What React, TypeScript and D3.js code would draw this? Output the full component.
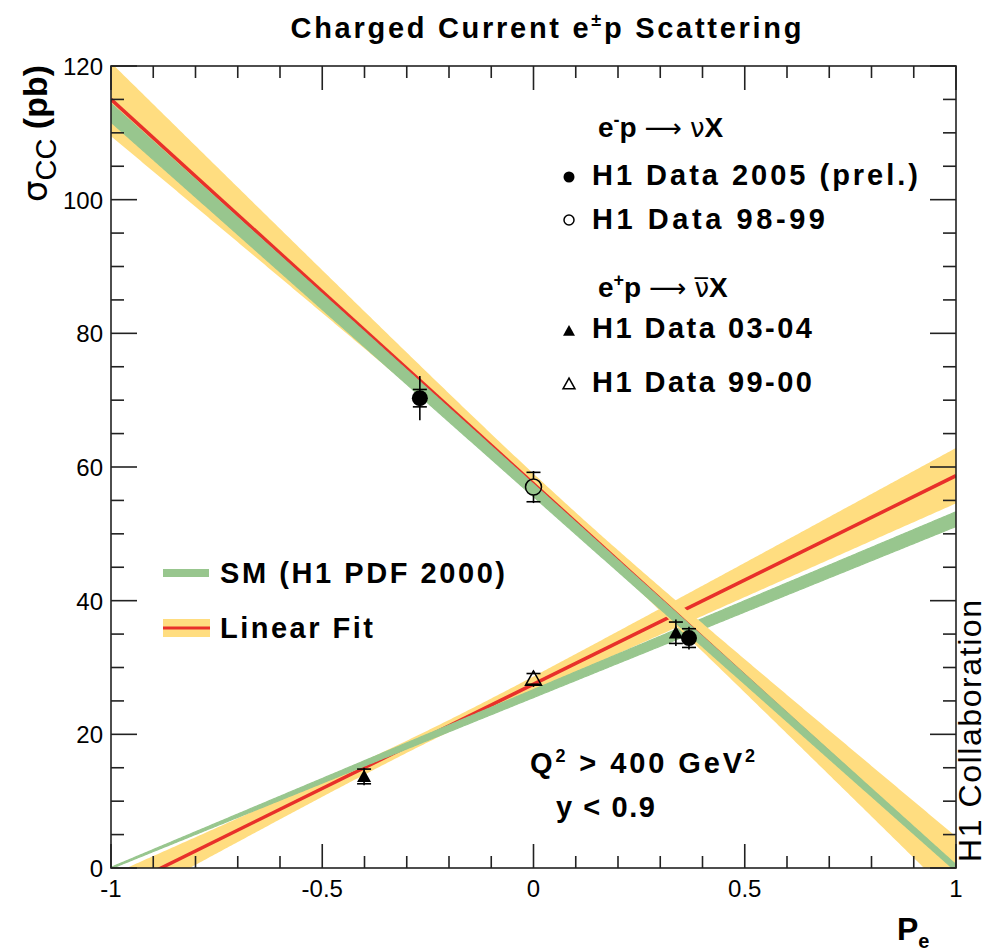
import React from 'react';
import * as d3 from 'd3';

const W = 989, H = 951;
const X_DOMAIN = [-1, 1];
const Y_DOMAIN = [0, 120];
const X_MAJOR = [-1, -0.5, 0, 0.5, 1];
const X_TICK_LABELS = ['-1', '-0.5', '0', '0.5', '1'];
const Y_MAJOR = [0, 20, 40, 60, 80, 100, 120];
const Y_TICK_LABELS = ['0', '20', '40', '60', '80', '100', '120'];

// Linear fits: [value at P=0, slope]; errors [sigma_a, sigma_b, correlation]
const FIT_EM = [57.5, -57.5];
const FIT_EM_ERR = [1.5, 4.89, -0.278];
const FIT_EP = [27.5, 31.2];
const FIT_EP_ERR = [1.17, 3.29, 0.653];
// SM (H1 PDF 2000): [value at P=0, slope]; band half-width [at P=0, slope]
const SM_EM = [56.5, -56.5];
const SM_EM_W = [0.95, -0.45];
const SM_EP = [26.1, 26.1];
const SM_EP_W = [0.6, 0.5];

// e-p data 2005 (prel.)
const EM05_P = [-0.269, 0.368];
const EM05_S = [70.3, 34.4];
const EM05_STAT = [1.3, 1.4];
const EM05_TOT = [3.3, 1.7];
// e-p data 98-99
const EM98_P = [0];
const EM98_S = [57.0];
const EM98_STAT = [2.2];
const EM98_TOT = [2.4];
// e+p data 03-04
const EP03_P = [-0.401, 0.337];
const EP03_S = [13.7, 35.2];
const EP03_STAT = [1.1, 1.6];
const EP03_TOT = [1.3, 2.0];
// e+p data 99-00
const EP99_P = [0];
const EP99_S = [28.3];
const EP99_STAT = [0.8];
const EP99_TOT = [1.0];

const YELLOW = '#ffdd80';
const GREEN = '#98c68e';
const RED = '#e8302a';
const FONT = '"Liberation Sans", Arial, Helvetica, sans-serif';

const x = d3.scaleLinear().domain(X_DOMAIN).range([111, 956]);
const y = d3.scaleLinear().domain(Y_DOMAIN).range([868, 66]);
const samples = d3.range(-1, 1.0001, 0.005);

function fitBand(fit: number[], err: number[]) {
  const [a, b] = fit;
  const [ea, eb, rho] = err;
  const hw = (p: number) => Math.sqrt(ea * ea + 2 * rho * ea * eb * p + eb * eb * p * p);
  const area = d3.area<number>()
    .x(p => x(p))
    .y0(p => y(a + b * p - hw(p)))
    .y1(p => y(a + b * p + hw(p)));
  return area(samples) || '';
}
function fitLine(fit: number[]) {
  const line = d3.line<number>().x(p => x(p)).y(p => y(fit[0] + fit[1] * p));
  return line([-1, 1]) || '';
}
function smBand(sm: number[], w: number[]) {
  const area = d3.area<number>()
    .x(p => x(p))
    .y0(p => y(sm[0] + sm[1] * p - (w[0] + w[1] * p)))
    .y1(p => y(sm[0] + sm[1] * p + (w[0] + w[1] * p)));
  return area(samples) || '';
}

type Kind = 'fc' | 'oc' | 'ft' | 'ot';
function Points({ P, S, stat, tot, kind, size }: { P: number[]; S: number[]; stat: number[]; tot: number[]; kind: Kind; size: number }) {
  return (
    <g>
      {P.map((p, i) => {
        const cx = x(p), cy = y(S[i]);
        const open = kind === 'oc' || kind === 'ot';
        const r = size;
        const yTop = y(S[i] + tot[i]);
        const yBot = y(S[i] - tot[i]);
        const ySt = y(S[i] + stat[i]);
        const ySb = y(S[i] - stat[i]);
        const gap = open ? r : 0;
        return (
          <g key={i}>
            <line x1={cx} x2={cx} y1={yTop} y2={cy - gap} stroke="#000" strokeWidth={1.6} />
            <line x1={cx} x2={cx} y1={cy + gap} y2={yBot} stroke="#000" strokeWidth={1.6} />
            <line x1={cx - 7} x2={cx + 7} y1={ySt} y2={ySt} stroke="#000" strokeWidth={1.6} />
            <line x1={cx - 7} x2={cx + 7} y1={ySb} y2={ySb} stroke="#000" strokeWidth={1.6} />
            <Marker kind={kind} cx={cx} cy={cy} r={r} />
          </g>
        );
      })}
    </g>
  );
}
function Marker({ kind, cx, cy, r }: { kind: Kind; cx: number; cy: number; r: number }) {
  if (kind === 'fc') return <circle cx={cx} cy={cy} r={r} fill="#000" />;
  if (kind === 'oc') return <circle cx={cx} cy={cy} r={r} fill="none" stroke="#000" strokeWidth={1.5} />;
  const h = r * 1.8;
  const pts = `${cx},${cy - h * 0.55} ${cx - r},${cy + h * 0.45} ${cx + r},${cy + h * 0.45}`;
  if (kind === 'ft') return <polygon points={pts} fill="#000" />;
  return <polygon points={pts} fill="none" stroke="#000" strokeWidth={1.5} />;
}

export default function App() {
  const xMinor = d3.range(-1, 1.0001, 0.1);
  const yMinor = d3.range(0, 120.001, 5);
  const L = 111, R = 956, T = 66, B = 868;
  return (
    <svg width={W} height={H} style={{ position: 'absolute', left: 0, top: 0, background: '#fff' }} fontFamily={FONT}>
      <defs>
        <clipPath id="plot"><rect x={L} y={T} width={R - L} height={B - T} /></clipPath>
      </defs>
      <rect x={0} y={0} width={W} height={H} fill="#fff" />
      <g clipPath="url(#plot)">
        <path d={fitBand(FIT_EP, FIT_EP_ERR)} fill={YELLOW} />
        <path d={fitLine(FIT_EP)} stroke={RED} strokeWidth={3.5} fill="none" />
        <path d={smBand(SM_EP, SM_EP_W)} fill={GREEN} stroke={GREEN} strokeWidth={1.2} />
        <path d={fitBand(FIT_EM, FIT_EM_ERR)} fill={YELLOW} />
        <path d={fitLine(FIT_EM)} stroke={RED} strokeWidth={3.5} fill="none" />
        <path d={smBand(SM_EM, SM_EM_W)} fill={GREEN} stroke={GREEN} strokeWidth={1.2} />
      </g>
      {/* data */}
      <Points P={EM05_P} S={EM05_S} stat={EM05_STAT} tot={EM05_TOT} kind="fc" size={8} />
      <Points P={EM98_P} S={EM98_S} stat={EM98_STAT} tot={EM98_TOT} kind="oc" size={8} />
      <Points P={EP03_P} S={EP03_S} stat={EP03_STAT} tot={EP03_TOT} kind="ft" size={7} />
      <Points P={EP99_P} S={EP99_S} stat={EP99_STAT} tot={EP99_TOT} kind="ot" size={8} />

      {/* frame and ticks */}
      <rect x={L} y={T} width={R - L} height={B - T} fill="none" stroke="#222" strokeWidth={1.6} />
      {xMinor.map((v, i) => {
        const major = X_MAJOR.some(m => Math.abs(m - v) < 1e-6);
        const len = major ? 24 : 12;
        return (
          <g key={'xt' + i}>
            <line x1={x(v)} x2={x(v)} y1={B} y2={B - len} stroke="#222" strokeWidth={1.6} />
            <line x1={x(v)} x2={x(v)} y1={T} y2={T + len} stroke="#222" strokeWidth={1.6} />
          </g>
        );
      })}
      {yMinor.map((v, i) => {
        const major = Y_MAJOR.some(m => Math.abs(m - v) < 1e-6);
        const len = major ? 26 : 13;
        return (
          <g key={'yt' + i}>
            <line x1={L} x2={L + len} y1={y(v)} y2={y(v)} stroke="#222" strokeWidth={1.6} />
            <line x1={R} x2={R - len} y1={y(v)} y2={y(v)} stroke="#222" strokeWidth={1.6} />
          </g>
        );
      })}
      {X_MAJOR.map((v, i) => (
        <text key={'xl' + i} x={x(v)} y={897} fontSize={24} textAnchor="middle" fill="#000">{X_TICK_LABELS[i]}</text>
      ))}
      {Y_MAJOR.map((v, i) => (
        <text key={'yl' + i} x={103} y={y(v) + 9} fontSize={24} textAnchor="end" fill="#000">{Y_TICK_LABELS[i]}</text>
      ))}

      {/* title */}
      <text x={546} y={38} fontSize={29} fontWeight="bold" textAnchor="middle" textLength={511}>
        Charged Current e<tspan dy={-12} fontSize={18}>±</tspan><tspan dy={12}>p Scattering</tspan>
      </text>

      {/* y axis label */}
      <text transform="translate(47,65) rotate(-90)" textAnchor="end" fontSize={34}>
        <tspan fontFamily="DejaVu Sans">σ</tspan>
        <tspan dy={9} fontSize={29}>CC</tspan>
        <tspan dy={-9} fontWeight="bold"> (pb)</tspan>
      </text>
      {/* x axis label */}
      <text x={897} y={940} fontSize={32} fontWeight="bold">
        P<tspan dy={8} fontSize={20}>e</tspan>
      </text>

      {/* legend top right */}
      <text x={598} y={137} fontSize={28} fontWeight="bold">
        e<tspan dy={-11} fontSize={18}>-</tspan><tspan dy={11}>p </tspan><tspan fontWeight="normal" fontFamily="DejaVu Sans" fontSize={26}>⟶ </tspan><tspan fontWeight="normal" fontFamily="DejaVu Sans" fontSize={26}>ν</tspan>X
      </text>
      <Marker kind="fc" cx={569} cy={177} r={5.5} />
      <text x={592} y={185} fontSize={29} fontWeight="bold" textLength={326}>H1 Data  2005 (prel.)</text>
      <Marker kind="oc" cx={569} cy={220} r={5} />
      <text x={592} y={229} fontSize={29} fontWeight="bold" textLength={233}>H1 Data  98-99</text>
      <text x={598} y={297} fontSize={28} fontWeight="bold">
        e<tspan dy={-11} fontSize={18}>+</tspan><tspan dy={11}>p </tspan><tspan fontWeight="normal" fontFamily="DejaVu Sans" fontSize={26}>⟶ </tspan><tspan fontWeight="normal" fontFamily="DejaVu Sans" fontSize={26}>ν&#x0305;</tspan>X
      </text>
      <Marker kind="ft" cx={569} cy={331} r={6} />
      <text x={592} y={338} fontSize={29} fontWeight="bold" textLength={220}>H1 Data 03-04</text>
      <Marker kind="ot" cx={569} cy={384} r={6} />
      <text x={592} y={392} fontSize={29} fontWeight="bold" textLength={220}>H1 Data 99-00</text>

      {/* legend lower left */}
      <rect x={163} y={569} width={46} height={8} fill={GREEN} />
      <text x={220} y={583} fontSize={29} fontWeight="bold" textLength={285}>SM (H1 PDF 2000)</text>
      <rect x={163} y={619} width={47} height={18} fill={YELLOW} />
      <line x1={163} x2={210} y1={628} y2={628} stroke={RED} strokeWidth={3} />
      <text x={220} y={638} fontSize={29} fontWeight="bold" textLength={153}>Linear Fit</text>

      {/* cuts */}
      <text x={530} y={773} fontSize={29} fontWeight="bold" textLength={225}>
        Q<tspan dy={-11} fontSize={18}>2</tspan><tspan dy={11}> &gt; 400 GeV</tspan><tspan dy={-11} fontSize={18}>2</tspan>
      </text>
      <text x={556} y={817} fontSize={29} fontWeight="bold" textLength={99}>y &lt; 0.9</text>

      {/* H1 Collaboration */}
      <text transform="translate(981,862) rotate(-90)" fontSize={32} textLength={262}>H1 Collaboration</text>
    </svg>
  );
}
